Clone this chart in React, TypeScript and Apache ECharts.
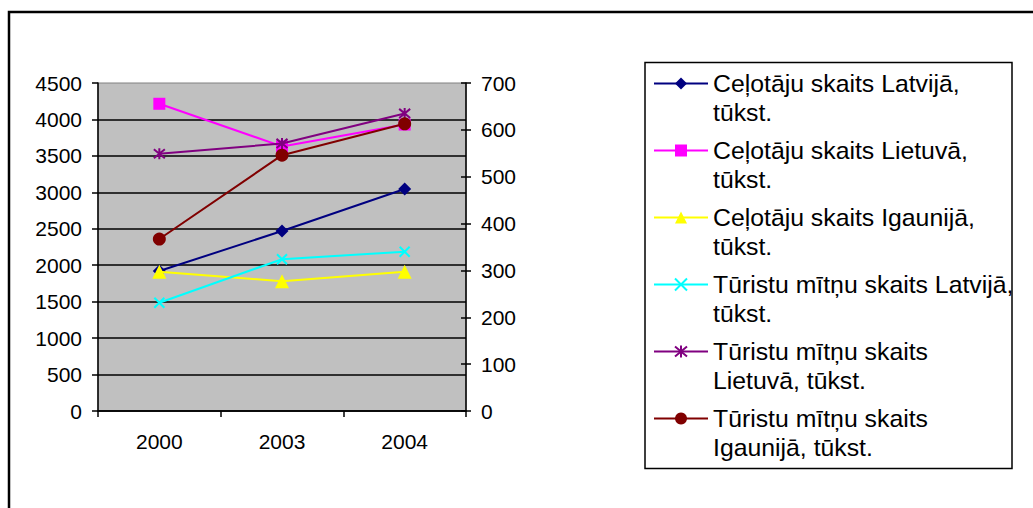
import React, { useEffect, useRef } from "react";
import * as echarts from "echarts";

const categories = ["2000", "2003", "2004"];
const seriesNames = [
  "Ceļotāju skaits Latvijā, tūkst.",
  "Ceļotāju skaits Lietuvā, tūkst.",
  "Ceļotāju skaits Igaunijā, tūkst.",
  "Tūristu mītņu skaits Latvijā, tūkst.",
  "Tūristu mītņu skaits Lietuvā, tūkst.",
  "Tūristu mītņu skaits Igaunijā, tūkst.",
];
const legendLabels = [
  "Ceļotāju skaits Latvijā,\ntūkst.",
  "Ceļotāju skaits Lietuvā,\ntūkst.",
  "Ceļotāju skaits Igaunijā,\ntūkst.",
  "Tūristu mītņu skaits Latvijā,\ntūkst.",
  "Tūristu mītņu skaits\nLietuvā, tūkst.",
  "Tūristu mītņu skaits\nIgaunijā, tūkst.",
];
const travelersLatvia = [1920, 2470, 3045];
const travelersLithuania = [4215, 3630, 3930];
const travelersEstonia = [1910, 1780, 1910];
const lodgingLatvia = [231, 324, 340];
const lodgingLithuania = [549, 571, 635];
const lodgingEstonia = [367, 546, 613];

const colors = ["#000080", "#FF00FF", "#FFFF00", "#00FFFF", "#800080", "#800000"];
const FONT = "'Liberation Sans', Arial, sans-serif";

export default function App() {
  const ref = useRef<HTMLDivElement>(null);
  useEffect(() => {
    if (!ref.current) return;
    const chart = echarts.init(ref.current, undefined, { renderer: "svg" });
    const mk = (
      i: number,
      data: number[],
      axis: number,
      symbol: string,
      size: number,
      stroked = false
    ) => ({
      name: seriesNames[i],
      type: "line",
      yAxisIndex: axis,
      data,
      symbol,
      symbolSize: size,
      showSymbol: true,
      z: 3 + i,
      lineStyle: { color: colors[i], width: 2 },
      itemStyle: stroked
        ? { color: colors[i], borderColor: colors[i], borderWidth: 2 }
        : { color: colors[i], borderWidth: 0 },
      emphasis: { disabled: true },
    });
    const xPath = "path://M0,0L10,10M10,0L0,10";
    const starPath = "path://M0,0L10,10M10,0L0,10M5,-1L5,11";
    const plain = (v: number) => String(v);
    chart.setOption({
      animation: false,
      textStyle: { fontFamily: FONT },
      grid: {
        left: 98,
        right: 567,
        top: 83,
        bottom: 97,
        show: true,
        backgroundColor: "#C0C0C0",
        borderColor: "#808080",
        borderWidth: 1,
      },
      xAxis: {
        type: "category",
        data: categories,
        boundaryGap: true,
        axisLine: { lineStyle: { color: "#000", width: 1.5 } },
        axisTick: { show: true, length: 6, lineStyle: { color: "#000", width: 1.5 } },
        axisLabel: { color: "#000", fontSize: 21, fontFamily: FONT, margin: 20 },
        splitLine: { show: false },
      },
      yAxis: [
        {
          type: "value",
          min: 0,
          max: 4500,
          interval: 500,
          position: "left",
          axisLine: { show: true, lineStyle: { color: "#000", width: 1.5 } },
          axisTick: { show: true, length: 6, lineStyle: { color: "#000", width: 1.5 } },
          axisLabel: { color: "#000", fontSize: 21, fontFamily: FONT, margin: 16, formatter: plain },
          splitLine: { show: true, showMaxLine: false, lineStyle: { color: "#000", width: 1.5 } },
        },
        {
          type: "value",
          min: 0,
          max: 700,
          interval: 100,
          position: "right",
          axisLine: { show: true, lineStyle: { color: "#000", width: 1.5 } },
          axisTick: { show: true, length: 5, lineStyle: { color: "#000", width: 1.5 } },
          axisLabel: { color: "#000", fontSize: 21, fontFamily: FONT, margin: 15, formatter: plain },
          splitLine: { show: false },
        },
        {
          type: "value",
          min: 0,
          max: 700,
          interval: 100,
          position: "right",
          axisLine: { show: false },
          axisTick: { show: true, inside: true, length: 5, lineStyle: { color: "#000", width: 1.5 } },
          axisLabel: { show: false },
          splitLine: { show: false },
        },
      ],
      legend: {
        orient: "vertical",
        left: 653,
        top: 40,
        padding: 0,
        itemWidth: 54,
        itemHeight: 15,
        itemGap: -20,
        selectedMode: false,
        data: seriesNames,
        formatter: (name: string) => legendLabels[seriesNames.indexOf(name)],
        textStyle: {
          color: "#000",
          fontSize: 24.8,
          fontFamily: FONT,
          lineHeight: 29,
          padding: [29, 0, 0, 0],
          rich: { a: { fontSize: 24.8, lineHeight: 29 } },
        },
      },
      graphic: [
        {
          type: "rect",
          shape: { x: 9, y: 12, width: 1100, height: 600 },
          style: { fill: "none", stroke: "#000", lineWidth: 2.5 },
          silent: true,
        },
        {
          type: "rect",
          shape: { x: 645, y: 62.5, width: 367, height: 406 },
          style: { fill: "none", stroke: "#000", lineWidth: 1.5 },
          silent: true,
        },
      ],
      series: [
        mk(0, travelersLatvia, 0, "diamond", 13),
        mk(1, travelersLithuania, 0, "rect", 12),
        mk(2, travelersEstonia, 0, "triangle", 14),
        mk(3, lodgingLatvia, 1, xPath, 10, true),
        mk(4, lodgingLithuania, 1, starPath, 11, true),
        mk(5, lodgingEstonia, 1, "circle", 13),
      ],
    });
    return () => chart.dispose();
  }, []);
  return (
    <div
      ref={ref}
      style={{ position: "absolute", left: 0, top: 0, width: 1033, height: 508, background: "#fff" }}
    />
  );
}
